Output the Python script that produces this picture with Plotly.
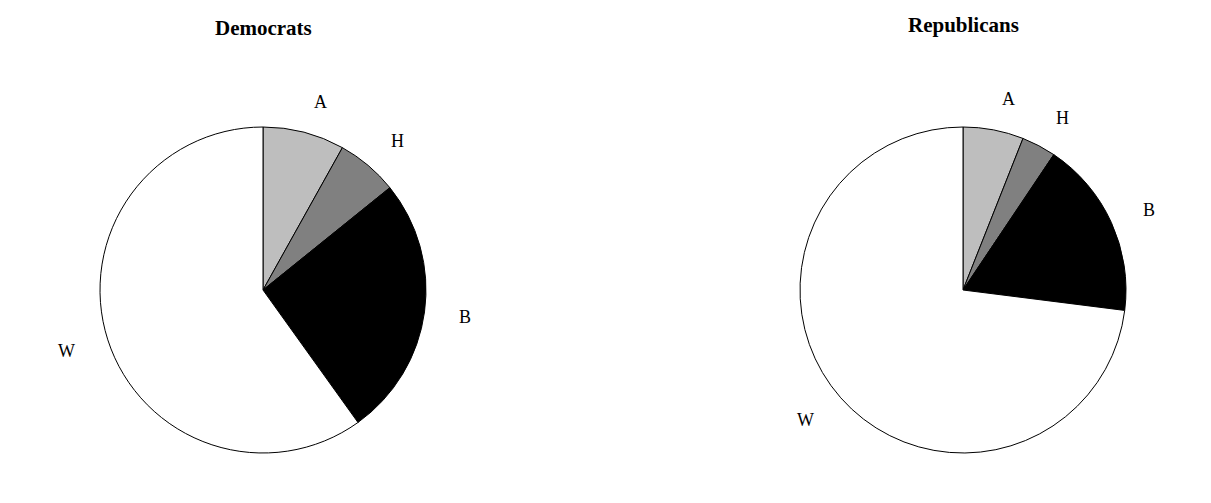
import numpy as np
import plotly.graph_objects as go

# parts des groupes
groupes = ["A", "H", "B", "W"]
couleurs = ["#bebebe", "#808080", "#000000", "#ffffff"]
democrates = [0.081, 0.061, 0.259, 0.599]
republicains = [0.060, 0.034, 0.176, 0.730]
titres = ["Democrats", "Republicans"]

# la page a une marge de 8 px autour de la figure
marge = 8
W, H = 1211 - 2 * marge, 503 - 2 * marge
rayon = 163
centres = [(263 - marge, 290 - marge), (963 - marge, 290 - marge)]
titre_y = [28 - marge, 25 - marge]

fig = go.Figure()
annotations = []

for valeurs, titre, (cx, cy), ty in zip([democrates, republicains], titres, centres, titre_y):
    fig.add_trace(go.Pie(
        labels=groupes, values=valeurs, sort=False, direction="clockwise", rotation=0,
        marker=dict(colors=couleurs, line=dict(color="black", width=1)),
        textinfo="none", hoverinfo="label+percent", showlegend=False,
        domain=dict(x=[(cx - rayon) / W, (cx + rayon) / W],
                    y=[1 - (cy + rayon) / H, 1 - (cy - rayon) / H]),
    ))

    # étiquettes à l'extérieur (comme pie() de R : à 1.2 r, alignées selon le côté)
    cumul = np.cumsum(valeurs) / np.sum(valeurs)
    milieu = (cumul - np.array(valeurs) / np.sum(valeurs) / 2) * 2 * np.pi
    for lab, a in zip(groupes, milieu):
        annotations.append(dict(
            x=(cx + 1.2 * rayon * np.sin(a)) / W, y=1 - (cy + 1 - 1.2 * rayon * np.cos(a)) / H,
            xref="paper", yref="paper", text=lab, showarrow=False,
            xanchor="left" if np.sin(a) > 0 else "right", yanchor="middle",
            font=dict(family="Liberation Serif", size=18, color="black"),
        ))

    annotations.append(dict(
        x=cx / W, y=1 - ty / H, xref="paper", yref="paper", text="<b>" + titre + "</b>",
        showarrow=False, xanchor="center", yanchor="middle",
        font=dict(family="Liberation Serif", size=21, color="black"),
    ))

fig.update_layout(
    width=W, height=H, margin=dict(l=0, r=0, t=0, b=0),
    paper_bgcolor="white", plot_bgcolor="white",
    annotations=annotations,
)

fig.write_html("out.html")
